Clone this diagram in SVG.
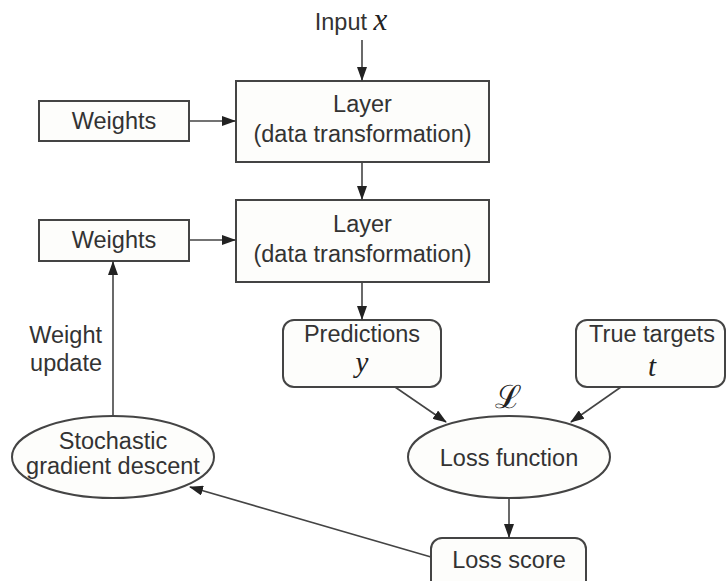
<svg xmlns="http://www.w3.org/2000/svg" width="726" height="581" viewBox="0 0 726 581">
<style>
.box{fill:#fdfdfb;stroke:#444;stroke-width:2}
.t{font-family:"Liberation Sans",Arial,sans-serif;font-size:23.5px;fill:#333;text-anchor:middle}
.m{font-family:"Liberation Serif","Times New Roman",serif;font-style:italic;font-size:29px;fill:#222;text-anchor:middle}
.c{fill:none;stroke:#444;stroke-width:1.6}
</style>
<defs>
<marker id="ah" markerWidth="14" markerHeight="10" refX="13" refY="5" orient="auto" markerUnits="userSpaceOnUse">
<path d="M0,0 L14,5 L0,10 Z" fill="#222"/>
</marker>
</defs>
<rect width="726" height="581" fill="#fff"/>
<g id="input"><text class="t" x="351" y="30">Input <tspan class="m" style="font-size:31px">x</tspan></text></g>
<g id="weights1"><rect class="box" x="39" y="101" width="150" height="40"/><text class="t" x="114" y="129">Weights</text></g>
<g id="layer1"><rect class="box" x="236" y="81" width="253" height="81"/><text class="t" x="362.5" y="112">Layer</text><text class="t" x="362.5" y="142">(data transformation)</text></g>
<g id="weights2"><rect class="box" x="39" y="220" width="150" height="41"/><text class="t" x="114" y="248">Weights</text></g>
<g id="layer2"><rect class="box" x="236" y="200" width="253" height="82"/><text class="t" x="362.5" y="232">Layer</text><text class="t" x="362.5" y="262">(data transformation)</text></g>
<g id="weight-update"><text class="t" x="102" y="343" style="text-anchor:end">Weight</text><text class="t" x="102" y="371" style="text-anchor:end">update</text></g>
<g id="predictions"><rect class="box" x="283" y="320" width="158" height="67" rx="11"/><text class="t" x="362" y="342">Predictions</text><text class="m" x="362" y="372">y</text></g>
<g id="targets"><rect class="box" x="576" y="320" width="149" height="67" rx="11"/><text class="t" x="652" y="342">True targets</text><text class="m" x="652" y="376">t</text></g>
<g id="sgd"><ellipse class="box" cx="113" cy="457" rx="101" ry="41"/><text class="t" x="113" y="449">Stochastic</text><text class="t" x="113" y="474">gradient descent</text></g>
<g id="loss-function"><text x="508" y="408" style="font-family:'DejaVu Serif',serif;font-size:32px;fill:#222;text-anchor:middle">ℒ</text><ellipse class="box" cx="509" cy="457" rx="101" ry="41"/><text class="t" x="509" y="466">Loss function</text></g>
<g id="loss-score"><rect class="box" x="431" y="538" width="155" height="55" rx="11"/><text class="t" x="509" y="568">Loss score</text></g>
<g id="connectors">
<line class="c" x1="362" y1="40" x2="362" y2="80" marker-end="url(#ah)"/>
<line class="c" x1="189" y1="121" x2="235" y2="121" marker-end="url(#ah)"/>
<line class="c" x1="362" y1="162" x2="362" y2="199" marker-end="url(#ah)"/>
<line class="c" x1="189" y1="240" x2="235" y2="240" marker-end="url(#ah)"/>
<line class="c" x1="362" y1="282" x2="362" y2="319" marker-end="url(#ah)"/>
<line class="c" x1="113" y1="416" x2="113" y2="262" marker-end="url(#ah)"/>
<line class="c" x1="395" y1="387" x2="446" y2="422" marker-end="url(#ah)"/>
<line class="c" x1="621" y1="387" x2="571" y2="422" marker-end="url(#ah)"/>
<line class="c" x1="509" y1="498" x2="509" y2="537" marker-end="url(#ah)"/>
<line class="c" x1="431" y1="557" x2="190" y2="487" marker-end="url(#ah)"/>
</g>
</svg>
